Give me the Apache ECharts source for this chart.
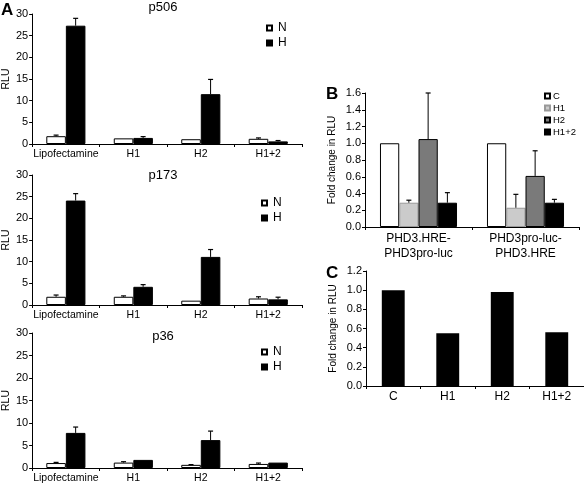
<!DOCTYPE html>
<html>
<head>
<meta charset="utf-8">
<script src="https://cdn.jsdelivr.net/npm/echarts@6/dist/echarts.min.js"></script>
<style>html,body{margin:0;padding:0;background:#fff}#c{width:584px;height:484px}</style>
</head>
<body>
<div id="c"></div>
<script>
// ---- Data ----
const catsA = ['Lipofectamine', 'H1', 'H2', 'H1+2'];
const yTicksA = [0, 5, 10, 15, 20, 25, 30];

const p506N = [1.8, 1.3, 1.1, 1.2];
const p506NErr = [0.25, 0, 0, 0.2];
const p506H = [27.3, 1.4, 11.5, 0.6];
const p506HErr = [1.7, 0.3, 3.4, 0.2];

const p173N = [1.9, 1.9, 1.0, 1.5];
const p173NErr = [0.4, 0.2, 0, 0.4];
const p173H = [24.1, 4.2, 11.1, 1.3];
const p173HErr = [1.6, 0.5, 1.7, 0.5];

const p36N = [1.1, 1.2, 0.7, 0.9];
const p36NErr = [0.15, 0.2, 0.05, 0.2];
const p36H = [7.8, 1.8, 6.2, 1.2];
const p36HErr = [1.3, 0, 2.0, 0];

const catsB = ['PHD3.HRE-\nPHD3pro-luc', 'PHD3pro-luc-\nPHD3.HRE'];
const namesB = ['C', 'H1', 'H2', 'H1+2'];
const bC = [1.0, 1.0];
const bCErr = [0, 0];
const bH1 = [0.29, 0.23];
const bH1Err = [0.03, 0.16];
const bH2 = [1.05, 0.61];
const bH2Err = [0.55, 0.30];
const bH12 = [0.29, 0.29];
const bH12Err = [0.12, 0.04];

const catsC = ['C', 'H1', 'H2', 'H1+2'];
const cVals = [1.0, 0.55, 0.98, 0.56];

// ---- Helpers ----
const FONT = 'Liberation Sans, Arial, Helvetica, sans-serif';
const axisLine = {lineStyle: {color: '#000', width: 1}};

function errSeries(gi, means, errs, idx, n, frac) {
  return {
    type: 'custom', xAxisIndex: gi, yAxisIndex: gi, silent: true, z: 10,
    encode: {x: 0, y: 1},
    data: means.map((m, i) => [i, m, errs[i]]).filter(d => d[2] > 0),
    renderItem(params, api) {
      const base = api.coord([api.value(0), api.value(1)]);
      const top = api.coord([api.value(0), api.value(1) + api.value(2)]);
      const band = api.size([1, 0])[0];
      const bw = band * frac;
      const x = base[0] + (idx - (n - 1) / 2) * bw;
      const cap = 2.5;
      return {type: 'group', children: [
        {type: 'line', shape: {x1: x, y1: base[1], x2: x, y2: top[1]}, style: {stroke: '#000', lineWidth: 1}},
        {type: 'line', shape: {x1: x - cap, y1: top[1], x2: x + cap, y2: top[1]}, style: {stroke: '#000', lineWidth: 1.2}}
      ]};
    }
  };
}

function barSeries(gi, name, vals, color, frac, border) {
  return {
    type: 'bar', name: name, xAxisIndex: gi, yAxisIndex: gi, data: vals,
    barWidth: (frac * 100) + '%', barGap: '0%',
    itemStyle: {color: color, borderColor: border || '#000', borderWidth: 1}
  };
}

const gridsA = [
  {left: 32, top: 14, width: 270, height: 130},
  {left: 32, top: 175, width: 270, height: 130},
  {left: 32, top: 333, width: 270, height: 137}
];
const gridB = {left: 365, top: 93, width: 214, height: 134};
const gridC = {left: 366, top: 271, width: 218, height: 115};

const xAxes = [], yAxes = [], series = [];
const FA = 0.29;
const setsA = [[p506N, p506NErr, p506H, p506HErr], [p173N, p173NErr, p173H, p173HErr], [p36N, p36NErr, p36H, p36HErr]];
setsA.forEach((s, gi) => {
  xAxes.push({type: 'category', gridIndex: gi, data: catsA, axisLine: axisLine,
    axisTick: {show: true, length: 3, lineStyle: {color: '#000'}},
    axisLabel: {color: '#000', fontSize: 10.5, fontFamily: FONT, margin: 5, interval: 0}});
  yAxes.push({type: 'value', gridIndex: gi, min: 0, max: 30, interval: 5, name: 'RLU',
    nameLocation: 'middle', nameGap: 16, nameTextStyle: {color: '#000', fontSize: 10.5, fontFamily: FONT},
    axisLine: {show: true, lineStyle: {color: '#000'}}, axisTick: {show: true, length: 3, lineStyle: {color: '#000'}},
    splitLine: {show: false},
    axisLabel: {color: '#000', fontSize: 11, fontFamily: FONT, margin: 4,
      formatter: v => yTicksA.includes(v) ? String(v) : ''}});
  series.push(barSeries(gi, 'N', s[0], '#fff', FA));
  series.push(barSeries(gi, 'H', s[2], '#000', FA));
  series.push(errSeries(gi, s[0], s[1], 0, 2, FA));
  series.push(errSeries(gi, s[2], s[3], 1, 2, FA));
});

// B
const FB = 0.18;
xAxes.push({type: 'category', gridIndex: 3, data: catsB, axisLine: axisLine,
  axisTick: {show: true, length: 3, lineStyle: {color: '#000'}},
  axisLabel: {color: '#000', fontSize: 12, fontFamily: FONT, margin: 4, lineHeight: 15, interval: 0}});
yAxes.push({type: 'value', gridIndex: 3, min: 0, max: 1.6, interval: 0.2, name: 'Fold change in RLU',
  nameLocation: 'middle', nameGap: 28, nameTextStyle: {color: '#000', fontSize: 10, fontFamily: FONT},
  axisLine: {show: true, lineStyle: {color: '#000'}}, axisTick: {show: true, length: 3, lineStyle: {color: '#000'}},
  splitLine: {show: false},
  axisLabel: {color: '#000', fontSize: 11, fontFamily: FONT, margin: 4, formatter: v => v.toFixed(1)}});
const bSets = [[bC, bCErr, '#fff'], [bH1, bH1Err, '#cbcbcb'], [bH2, bH2Err, '#7a7a7a'], [bH12, bH12Err, '#000']];
bSets.forEach((s, i) => series.push(barSeries(3, namesB[i], s[0], s[2], FB, i === 1 ? '#999' : '#000')));
bSets.forEach((s, i) => series.push(errSeries(3, s[0], s[1], i, 4, FB)));

// C
xAxes.push({type: 'category', gridIndex: 4, data: catsC, axisLine: axisLine,
  axisTick: {show: true, length: 3, lineStyle: {color: '#000'}},
  axisLabel: {color: '#000', fontSize: 12, fontFamily: FONT, margin: 5, interval: 0}});
yAxes.push({type: 'value', gridIndex: 4, min: 0, max: 1.2, interval: 0.2, name: 'Fold change in RLU',
  nameLocation: 'middle', nameGap: 28, nameTextStyle: {color: '#000', fontSize: 10, fontFamily: FONT},
  axisLine: {show: true, lineStyle: {color: '#000'}}, axisTick: {show: true, length: 3, lineStyle: {color: '#000'}},
  splitLine: {show: false},
  axisLabel: {color: '#000', fontSize: 11, fontFamily: FONT, margin: 4, formatter: v => v.toFixed(1)}});
series.push({type: 'bar', name: 'fold', xAxisIndex: 4, yAxisIndex: 4, data: cVals, barWidth: '42%',
  itemStyle: {color: '#000'}});

function legendA(left, top) {
  return {orient: 'vertical', left: left, top: top, data: ['N', 'H'], itemWidth: 5, itemHeight: 5, itemGap: 3,
    icon: 'rect', selectedMode: false, padding: 0,
    textStyle: {color: '#000', fontSize: 12, fontFamily: FONT, lineHeight: 12, padding: [0, 0, 0, 1]}};
}

const titles = [
  {text: 'p506', left: 163, top: 1},
  {text: 'p173', left: 163, top: 169},
  {text: 'p36', left: 163, top: 330}
].map(t => Object.assign(t, {textAlign: 'center', padding: 0, textStyle: {color: '#000', fontSize: 13, fontWeight: 'normal', fontFamily: FONT}}));
[['A', 1, 2], ['B', 326, 86], ['C', 326, 265]].forEach(([t, l, tp]) => titles.push(
  {text: t, left: l, top: tp, padding: 0, textStyle: {color: '#000', fontSize: 17, fontWeight: 'bold', fontFamily: FONT}}));

const chart = echarts.init(document.getElementById('c'));
chart.setOption({
  animation: false,
  backgroundColor: '#fff',
  textStyle: {fontFamily: FONT},
  title: titles,
  grid: [...gridsA, gridB, gridC],
  xAxis: xAxes,
  yAxis: yAxes,
  legend: [
    legendA(266, 22), legendA(261, 197), legendA(261, 346),
    {orient: 'vertical', left: 544, top: 91, data: namesB, itemWidth: 5, itemHeight: 5, itemGap: 2,
      icon: 'rect', selectedMode: false, padding: 0,
      textStyle: {color: '#000', fontSize: 9.5, fontFamily: FONT, lineHeight: 10, padding: [0, 0, 0, -2]}}
  ],
  series: series
});
</script>
</body>
</html>
